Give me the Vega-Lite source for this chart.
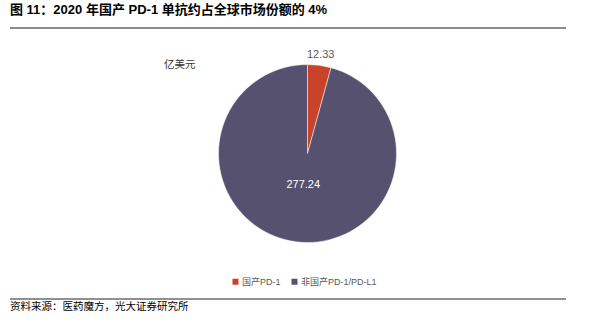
{
  "$schema": "https://vega.github.io/schema/vega-lite/v6.json",
  "width": 595,
  "height": 324,
  "autosize": {"type": "fit", "contains": "padding"},
  "padding": {"left": 9, "right": 28, "top": 4, "bottom": 11},
  "background": "white",
  "config": {"view": {"stroke": null}, "font": "Liberation Sans, Noto Sans CJK SC"},
  "title": {
    "text": "图 11：2020 年国产 PD-1 单抗约占全球市场份额的 4%",
    "anchor": "start",
    "frame": "group",
    "fontSize": 13,
    "fontWeight": "bold",
    "color": "#000000",
    "offset": 10,
    "font": "Liberation Sans, Noto Sans CJK SC"
  },
  "data": {
    "values": [
      {"name": "国产PD-1", "value": 12.33},
      {"name": "非国产PD-1/PD-L1", "value": 277.24}
    ]
  },
  "layer": [
    {
      "mark": {"type": "arc", "outerRadius": 89, "xOffset": 19.5, "yOffset": -9.5, "stroke": "white", "strokeWidth": 0.5},
      "encoding": {
        "theta": {"field": "value", "type": "quantitative", "stack": true},
        "color": {
          "field": "name",
          "type": "nominal",
          "scale": {"domain": ["国产PD-1", "非国产PD-1/PD-L1"], "range": ["#C9432A", "#56516F"]},
          "legend": {
            "title": null,
            "orient": "none",
            "legendX": 221,
            "legendY": 250,
            "direction": "horizontal",
            "symbolType": "square",
            "symbolSize": 36,
            "symbolStrokeWidth": 0,
            "labelFontSize": 9,
            "labelColor": "#595959",
            "labelOffset": 2,
            "columnPadding": 9,
            "labelFont": "Liberation Sans, Noto Sans CJK SC"
          }
        }
      }
    },
    {
      "mark": {"type": "text", "radius": 99, "xOffset": 19.5, "yOffset": -9.5, "fontSize": 11, "color": "#595959"},
      "encoding": {
        "theta": {"field": "value", "type": "quantitative", "stack": true},
        "detail": {"field": "name", "type": "nominal"},
        "text": {"field": "value", "type": "quantitative", "format": ".2f"},
        "opacity": {"condition": {"test": "datum.name === '国产PD-1'", "value": 1}, "value": 0}
      }
    },
    {
      "mark": {"type": "text", "radius": 32, "xOffset": 19.5, "yOffset": -9.5, "fontSize": 11, "color": "#FFFFFF"},
      "encoding": {
        "theta": {"field": "value", "type": "quantitative", "stack": true},
        "detail": {"field": "name", "type": "nominal"},
        "text": {"field": "value", "type": "quantitative", "format": ".2f"},
        "opacity": {"condition": {"test": "datum.name === '非国产PD-1/PD-L1'", "value": 1}, "value": 0}
      }
    },
    {
      "data": {"values": [{"label": "亿美元"}]},
      "mark": {"type": "text", "align": "left", "baseline": "middle", "fontSize": 10.5, "color": "#333333"},
      "encoding": {"x": {"value": 154}, "y": {"value": 38}, "text": {"field": "label"}}
    },
    {
      "data": {"values": [{"label": "资料来源：医药魔方，光大证券研究所"}]},
      "mark": {"type": "text", "align": "left", "baseline": "middle", "fontSize": 10.5, "color": "#000000", "dy": 8},
      "encoding": {"x": {"value": 0}, "y": {"value": "height"}, "text": {"field": "label"}}
    },
    {
      "data": {"values": [{"line": "top"}]},
      "mark": {"type": "rule", "color": "#8C8C8C", "strokeWidth": 2, "opacity": 1},
      "encoding": {"x": {"value": 0}, "x2": {"value": "width"}, "y": {"value": 1}}
    },
    {
      "data": {"values": [{"line": "bottom"}]},
      "mark": {"type": "rule", "color": "#222222", "strokeWidth": 1.2},
      "encoding": {"x": {"value": 0}, "x2": {"value": "width"}, "y": {"value": "height"}}
    }
  ]
}
